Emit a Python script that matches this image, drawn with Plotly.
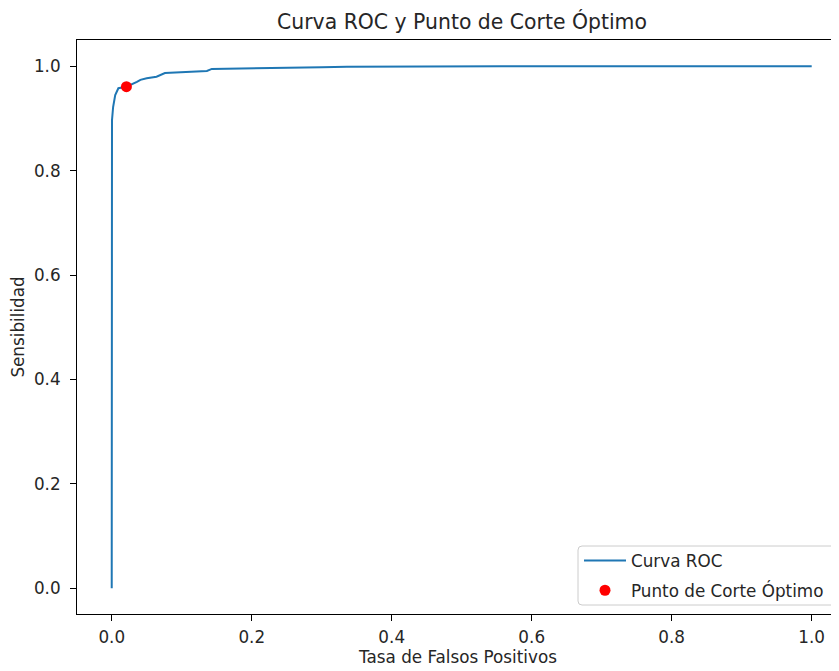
import plotly.graph_objects as go

# ROC curve values
fpr = [0.0, 0.0, 0.0, 0.0004, 0.002, 0.005, 0.0095, 0.021, 0.036, 0.041, 0.050, 0.064,
       0.076, 0.100, 0.136, 0.143, 0.230, 0.300, 0.336, 0.557, 1.0]
tpr = [0.0, 0.84, 0.87, 0.897, 0.922, 0.945, 0.958, 0.961, 0.970, 0.974, 0.977, 0.980,
       0.987, 0.989, 0.991, 0.995, 0.996, 0.998, 0.999, 1.0, 1.0]

# Optimal cut-off point
opt_fpr = [0.021]
opt_tpr = [0.961]

tick_vals = [0.0, 0.2, 0.4, 0.6, 0.8, 1.0]
tick_text = ["0.0", "0.2", "0.4", "0.6", "0.8", "1.0"]

fig = go.Figure()
fig.add_trace(go.Scatter(
    x=fpr, y=tpr, mode="lines", name="Curva ROC",
    line=dict(color="#1f77b4", width=2), legendgroup="a",
))
fig.add_trace(go.Scatter(
    x=opt_fpr, y=opt_tpr, mode="markers", name="Punto de Corte Óptimo",
    marker=dict(color="red", size=11), legendgroup="b",
))

W, H = 831, 663  # page has 8px body margin
ML, MT, MB = 69, 32, 57
PW, PH = W - ML, H - MT - MB
FS = 16.8
axis_font = dict(family="DejaVu Sans", size=FS, color="#262626")


def px_x(p):
    return (p - ML) / PW


def px_y(p):
    return (H - MB - p) / PH


# legend frame (rounded), in figure pixel coords converted to paper
x0, x1, y0, y1 = px_x(570), px_x(830), px_y(538), px_y(597)
rx, ry = 4 / PW, 4 / PH
frame = (f"M{x0+rx},{y0} L{x1-rx},{y0} Q{x1},{y0} {x1},{y0-ry} "
         f"L{x1},{y1+ry} Q{x1},{y1} {x1-rx},{y1} L{x0+rx},{y1} Q{x0},{y1} {x0},{y1+ry} "
         f"L{x0},{y0-ry} Q{x0},{y0} {x0+rx},{y0} Z")

fig.update_layout(
    width=W, height=H,
    margin=dict(l=ML, r=0, t=MT, b=MB),
    paper_bgcolor="white", plot_bgcolor="white",
    font=dict(family="DejaVu Sans", size=FS, color="#262626"),
    title=dict(text="Curva ROC y Punto de Corte Óptimo", x=454 / W, xanchor="center",
               y=1 - 14 / H, yanchor="middle",
               font=dict(family="DejaVu Sans", size=20.4, color="#262626")),
    legend=dict(x=px_x(571), y=px_y(600), xanchor="left", yanchor="bottom",
                borderwidth=0, bgcolor="rgba(0,0,0,0)", itemwidth=42,
                font=dict(family="DejaVu Sans", size=FS, color="#262626"),
                tracegroupgap=5, traceorder="grouped"),
    showlegend=True,
    shapes=[dict(type="path", xref="paper", yref="paper", path=frame,
                 line=dict(color="#cccccc", width=1),
                 fillcolor="rgba(255,255,255,0.8)", layer="above")],
)
fig.update_xaxes(
    range=[-0.0496, 1.039], tickvals=tick_vals, ticktext=tick_text,
    showgrid=False, zeroline=False, showline=True, linecolor="black", linewidth=1,
    mirror=True, ticks="outside", ticklen=6, tickcolor="black", tickfont=axis_font,
    ticklabelstandoff=2,
    title=dict(text="Tasa de Falsos Positivos", font=axis_font, standoff=4),
)
fig.update_yaxes(
    range=[-0.0492, 1.0504], tickvals=tick_vals, ticktext=tick_text,
    showgrid=False, zeroline=False, showline=True, linecolor="black", linewidth=1,
    mirror=False, ticks="outside", ticklen=6, tickcolor="black", tickfont=axis_font,
    ticklabelstandoff=6,
    title=dict(text="Sensibilidad", font=axis_font, standoff=6),
)

fig.write_html("out.html")
